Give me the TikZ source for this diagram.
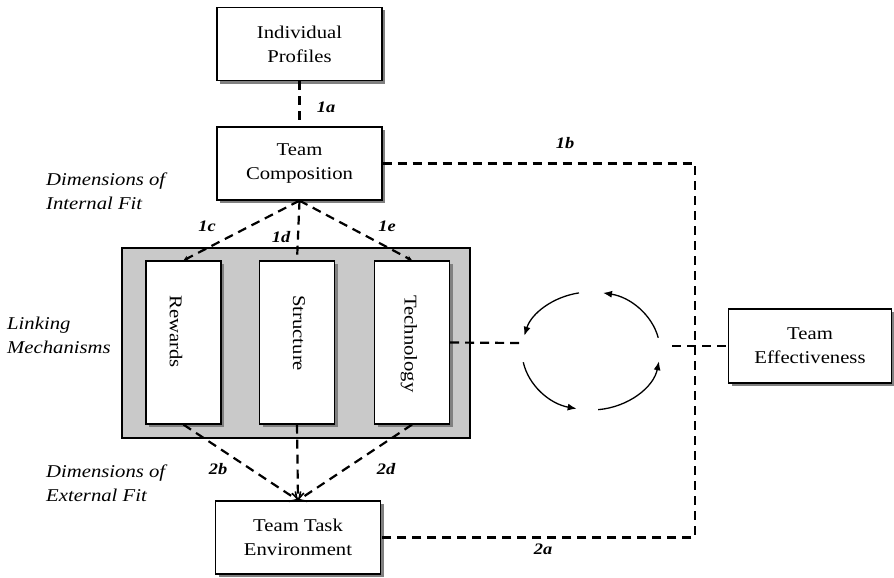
\documentclass[tikz,border=0pt]{standalone}
\usepackage{fontspec}
\setmainfont{Liberation Serif}[FakeStretch=1.15]
\usetikzlibrary{arrows.meta,shadows}
\begin{document}
\begin{tikzpicture}[x=1pt,y=-1pt,
  box/.style={draw=black,line width=1.3pt,fill=white,align=center,inner sep=0pt,
    font=\fontsize{18}{24}\selectfont,
    drop shadow={shadow xshift=3pt,shadow yshift=-3pt,fill=black!50,opacity=1}},
  vbox/.style={box,minimum width=75pt,minimum height=163pt},
  hbox/.style={box,minimum width=165pt,minimum height=73pt},
  vtext/.style={rotate=-90,anchor=west,inner sep=0pt,font=\fontsize{18}{24}\selectfont},
  dsh/.style={line width=2.2pt,dash pattern=on 9pt off 6pt},
  tipa/.style={-{Stealth[length=5pt,width=5pt]}},
  tipv/.style={-{Straight Barb[length=6pt,width=12pt,line width=1.6pt]}},
  lab/.style={inner sep=0pt,font=\fontsize{16}{18}\selectfont\bfseries\itshape},
  side/.style={inner sep=0pt,align=left,anchor=north west,font=\fontsize{18}{24}\selectfont\itshape},
  cyc/.style={line width=1.3pt,-{Latex[length=9pt,width=7pt]}}
]
\useasboundingbox (0,0) rectangle (894,578);

% gray frame
\node[draw=black,line width=1.3pt,fill=black!21,minimum width=348pt,minimum height=190pt,inner sep=0pt] (frame) at (296,343) {};

% boxes
\node[hbox] (prof) at (299.5,44) {Individual\\Profiles};
\node[hbox] (comp) at (299.5,163.5) {Team\\Composition};
\node[hbox] (task) at (298,537.5) {Team Task\\Environment};
\node[hbox,minimum width=163pt,minimum height=74pt] (eff) at (810,346) {Team\\Effectiveness};

\node[vbox] (rew) at (183.5,342.5) {};
\node[vbox] (str) at (297,342.5) {};
\node[vbox] (tech) at (412,342.5) {};
\node[vtext] (trew) at (176,295) {Rewards};
\node[vtext] (tstr) at (299,295) {Structure};
\node[vtext] (ttech) at (409,295) {Technology};

% coordinates
\coordinate (c1) at (695,163.5);
\coordinate (c2) at (695,537.5);
\coordinate (cl) at (519,343);
\coordinate (cr) at (672,346);
\coordinate (cc) at (591,351);

% connectors
\draw[dsh] (prof.south) -- (comp.north);
\draw[dsh] (comp.east) -- (c1) -- (c2) -- (task.east);
\draw[dsh,tipa] (comp.south) -- (rew.north);
\draw[dsh] (comp.south) -- (str.north);
\draw[dsh,tipa] (comp.south) -- (tech.north);
\draw[dsh,tipv] (rew.south) -- (task.north);
\draw[dsh,tipv] (str.south) -- (task.north);
\draw[dsh,tipv] (tech.south) -- (task.north);
\draw[dsh] (tech.east) -- (cl);
\draw[dsh] (cr) -- (eff.west);

% cycle
\draw[cyc] ([shift={(-100:69 and 59)}]cc) arc[start angle=-100,end angle=-165,x radius=69,y radius=59];
\draw[cyc] ([shift={(-191:69 and 59)}]cc) arc[start angle=-191,end angle=-258,x radius=69,y radius=59];
\draw[cyc] ([shift={(-276:69 and 59)}]cc) arc[start angle=-276,end angle=-350,x radius=69,y radius=59];
\draw[cyc] ([shift={(-13:69 and 59)}]cc) arc[start angle=-13,end angle=-80,x radius=69,y radius=59];

% labels
\node[lab] (l1a) at (326,107) {1a};
\node[lab] (l1b) at (565,143) {1b};
\node[lab] (l1c) at (207,226) {1c};
\node[lab] (l1d) at (281,237) {1d};
\node[lab] (l1e) at (387,226) {1e};
\node[lab] (l2b) at (218,469) {2b};
\node[lab] (l2d) at (386,469) {2d};
\node[lab] (l2a) at (543,549) {2a};

\node[side] (sint) at (46,173) {Dimensions of\\Internal Fit};
\node[side] (slink) at (7,317) {Linking\\Mechanisms};
\node[side] (sext) at (46,465) {Dimensions of\\External Fit};
\end{tikzpicture}
\end{document}
